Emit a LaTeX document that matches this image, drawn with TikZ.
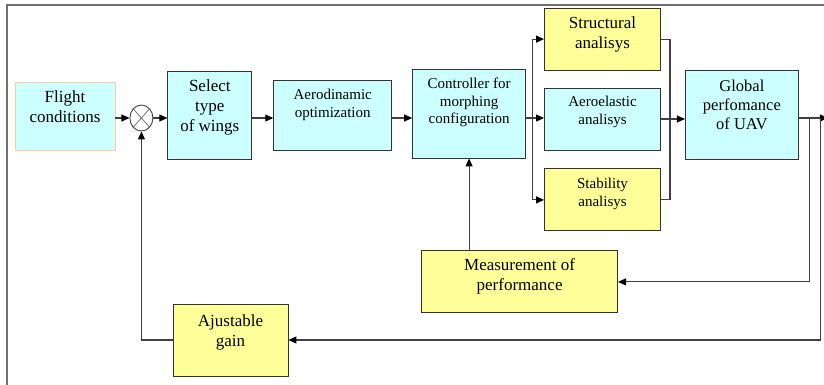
\documentclass[tikz,border=0pt]{standalone}
\usepackage{fontspec}
\setmainfont{Liberation Serif}
\newfontfamily\blockfont{Liberation Serif}
\usetikzlibrary{arrows.meta,positioning,shapes.geometric,calc}
\definecolor{boxcyan}{HTML}{CCFFFF}
\definecolor{boxyellow}{HTML}{FFFF99}
\definecolor{boxpeach}{HTML}{FFCC99}
\definecolor{linegray}{HTML}{404040}
\definecolor{framegray}{HTML}{707070}

\begin{document}
\begin{tikzpicture}[x=1pt, y=-1pt,
  block/.style={draw=black!80, line width=0.9pt, inner sep=0pt},
  cyanblock/.style={block, fill=boxcyan},
  yellowblock/.style={block, fill=boxyellow},
  txt/.style={align=center, inner sep=0pt, text=black,
    font=\blockfont\fontsize{17}{20}\selectfont},
  smalltxt/.style={font=\blockfont\fontsize{15}{17.5}\selectfont},
  boxtext/.style 2 args={label={[txt, #1]center:#2}},
  sumjct/.style={draw=black!75, line width=0.9pt, ellipse, minimum width=23pt,
    minimum height=26pt, inner sep=0pt},
  line/.style={line width=1.1pt, linegray},
  link/.style={line, -{Triangle[length=8pt,width=7pt,fill=black,color=black]}},
]
  \useasboundingbox (0,0) rectangle (824,385);
  \draw[framegray, line width=1.2pt] (7,385) -- (7,5) -- (824,5);

  % --- forward chain ------------------------------------------------
  \node[cyanblock, draw=boxpeach, minimum width=100pt, minimum height=68pt,
    boxtext={yshift=9pt}{Flight\\conditions}] (flight) at (65,116) {};
  \node[sumjct, right=14pt of flight, yshift=-2pt] (sum) {};
  \draw[black!60, line width=0.7pt] (sum.north west) -- (sum.south east)
    (sum.north east) -- (sum.south west);
  \node[cyanblock, right=14pt of sum, yshift=3pt, minimum width=84pt,
    minimum height=88pt, boxtext={yshift=8pt}{Select\\type\\of wings}] (select) {};
  \node[cyanblock, right=21pt of select, minimum width=118pt, minimum height=70pt,
    boxtext={yshift=10pt, smalltxt}{Aerodinamic\\optimization}] (aero) {};
  \node[cyanblock, right=20pt of aero, yshift=1.5pt, minimum width=113pt,
    minimum height=89pt,
    boxtext={yshift=11pt, smalltxt}{Controller for\\morphing\\configuration}] (ctrl) {};

  % --- analyses -----------------------------------------------------
  \node[cyanblock, right=18pt of ctrl, yshift=-5.5pt, minimum width=116pt,
    minimum height=62pt, boxtext={yshift=7pt, smalltxt}{Aeroelastic\\analisys}] (aeroel) {};
  \node[yellowblock, above=17pt of aeroel, minimum width=116pt, minimum height=62pt,
    boxtext={yshift=5pt}{Structural\\analisys}] (struct) {};
  \node[yellowblock, below=18pt of aeroel, minimum width=116pt, minimum height=62pt,
    boxtext={yshift=6pt, smalltxt}{Stability\\analisys}] (stab) {};
  \node[cyanblock, right=24pt of aeroel, yshift=4.5pt, minimum width=113pt,
    minimum height=89pt,
    boxtext={yshift=10pt, font=\blockfont\fontsize{16.5}{19}\selectfont}{Global\\perfomance\\of UAV}]
    (global) {};

  % --- feedback blocks ----------------------------------------------
  \node[yellowblock, below=92pt of ctrl, xshift=50.5pt, minimum width=196pt,
    minimum height=62pt, boxtext={yshift=6pt}{Measurement of\\performance}] (meas) {};
  \node[yellowblock, minimum width=115pt, minimum height=72pt,
    boxtext={yshift=8pt}{Ajustable\\gain}] (gain) at (230.5,340) {};

  % --- connectors ---------------------------------------------------
  \draw[link] (flight.east |- sum) -- (sum);
  \draw[link] (sum) -- (select.west |- sum);
  \draw[link] (select.east |- sum) -- (aero.west |- sum);
  \draw[link] (aero.east |- sum) -- (ctrl.west |- sum);

  \coordinate (split) at ($(ctrl.east |- sum)+(6,0)$);
  \draw[line] (ctrl.east |- sum) -- (split);
  \draw[link] (split) |- (struct.west);
  \draw[link] (split) |- (stab.west);
  \draw[link] (split) -- (aeroel.west |- split);

  \coordinate (merge) at ($(aeroel.east)+(9,0)$);
  \draw[line] (struct.east) -| (merge |- stab.east) -- (stab.east);
  \draw[link] (aeroel.east) -- (global.west |- aeroel.east);

  \coordinate (out) at ($(global.east |- sum)+(29,0)$);
  \coordinate (tap1) at ($(global.east |- sum)+(11,0)$);
  \coordinate (tap2) at ($(global.east |- sum)+(22,0)$);
  \draw[link] (global.east |- sum) -- (out);
  \draw[link] (tap1) |- (meas.east);
  \draw[link] (tap2) |- (gain.east);
  \draw[link] (meas.north -| ctrl.south) -- (ctrl.south);
  \draw[link] (gain.west) -| (sum.south);
\end{tikzpicture}
\end{document}
